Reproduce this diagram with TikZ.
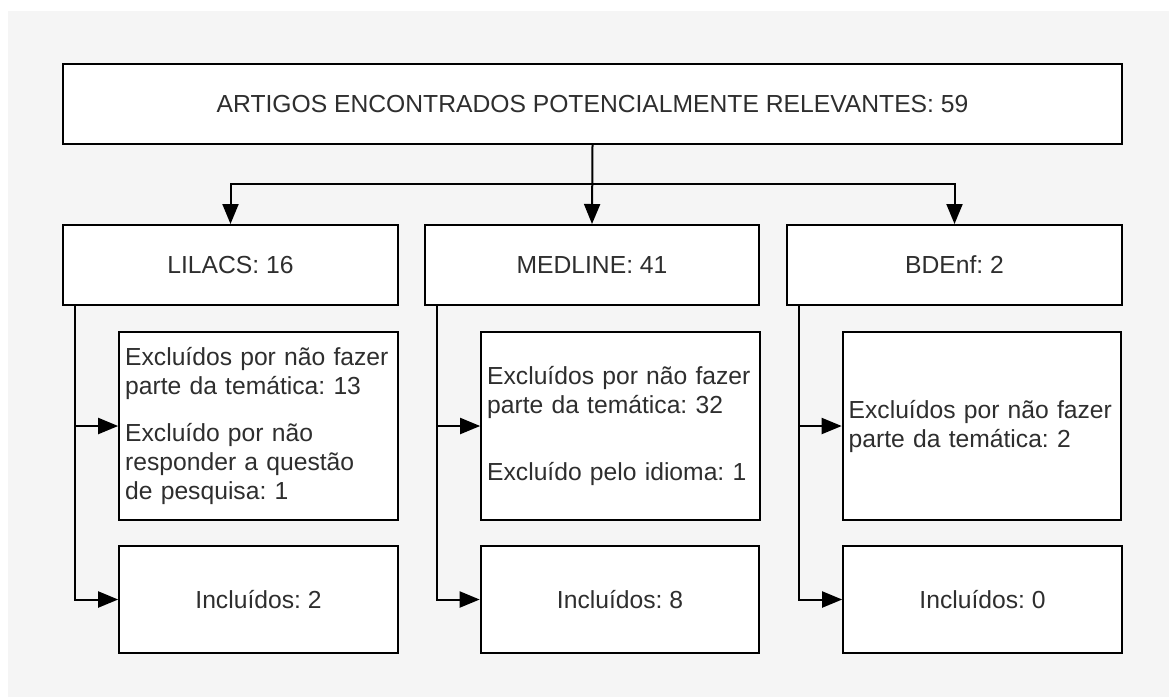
\documentclass[tikz,border=0pt]{standalone}
\usepackage{fontspec}
\setmainfont{Liberation Sans}
\usepackage{xcolor}
\usetikzlibrary{arrows.meta}

\definecolor{bggray}{HTML}{F5F5F5}
\definecolor{txtgray}{HTML}{2E2E2E}

\begin{document}
\begin{tikzpicture}[x=0.75pt, y=-0.75pt,
    box/.style={draw=black, fill=white, line width=1.5pt, text=txtgray,
      font=\fontsize{18.5}{21.75}\selectfont\frenchspacing},
    headbox/.style={box, minimum width=251pt, minimum height=60pt},
    excbox/.style={box, minimum width=209pt, minimum height=141pt,
      text width=200pt, align=left, inner xsep=4.5pt, inner ysep=6pt},
    incbox/.style={box, minimum width=209pt, minimum height=80pt},
    arr/.style={line width=1.5pt, -{Triangle[length=15pt,width=12pt]}},
  ]
  \useasboundingbox (0,0) rectangle (1169,697);
  \fill[bggray] (8,11) rectangle (1169,697);

  % top box
  \node[box, minimum width=794pt, minimum height=60pt] (top) at (592.5,104)
    {ARTIGOS ENCONTRADOS POTENCIALMENTE RELEVANTES: 59};

  % excluded boxes
  \node[excbox] (lil-exc) at (258.5,426)
    {Excluídos por não fazer\\parte da temática: 13\\[13.5pt]Excluído por não\\responder a questão\\de pesquisa: 1};
  \node[excbox] (med-exc) at (620.5,426)
    {Excluídos por não fazer\\parte da temática: 32\\[28.5pt]Excluído pelo idioma: 1};
  \node[excbox] (bde-exc) at (982,426)
    {Excluídos por não fazer\\parte da temática: 2};

  % one column per database
  \foreach \name/\cx/\head/\inc in {lil/230.5/LILACS: 16/2, med/592/MEDLINE: 41/8, bde/954.5/BDEnf: 2/0} {
    \node[headbox] (\name) at (\cx,265) {\head};
    \node[incbox] (\name-inc) at (\cx+28,599.5) {Incluídos: \inc};
    \draw[arr] ([xshift=9.75pt]\name.south west) |- (\name-exc.west);
    \draw[arr] ([xshift=9.75pt]\name.south west) |- (\name-inc.west);
  }

  % split from the top box
  \coordinate (split) at (top.south |- 0,184);
  \draw[arr] (top.south) -- (med.north);
  \draw[arr] (split) -| (lil.north);
  \draw[arr] (split) -| (bde.north);
\end{tikzpicture}
\end{document}
